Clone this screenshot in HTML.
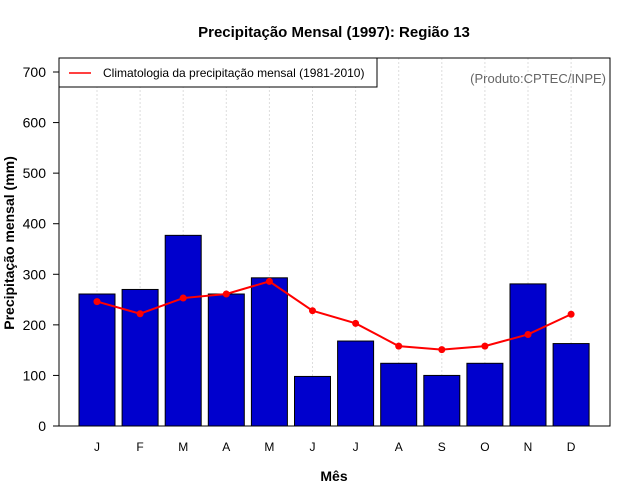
<!DOCTYPE html>
<html><head><meta charset="utf-8"><style>
body{margin:0;background:#fff;}
svg{display:block;font-family:"Liberation Sans",Arial,sans-serif;}
</style></head><body>
<svg id="chart" width="640" height="500">
<text x="334" y="37" text-anchor="middle" font-size="15" font-weight="bold">Precipitação Mensal (1997): Região 13</text>
<text x="334" y="481" text-anchor="middle" font-size="14" font-weight="bold">Mês</text>
<text transform="translate(14,243) rotate(-90)" text-anchor="middle" font-size="14" font-weight="bold">Precipitação mensal (mm)</text>
<g id="grid"></g><g id="bars"></g><g id="line"></g><g id="axes"></g>
<rect x="59" y="58" width="551" height="368" fill="none" stroke="#000"/>
<g>
<rect x="59" y="58" width="318" height="29" fill="#fff" stroke="#000"/>
<line x1="69" y1="73" x2="91" y2="73" stroke="#f00" stroke-width="1.5"/>
<text x="103" y="77" font-size="12">Climatologia da precipitação mensal (1981-2010)</text>
</g>
<text x="606" y="83" text-anchor="end" font-size="13" fill="#666">(Produto:CPTEC/INPE)</text>
</svg>
<script>
const months=["J","F","M","A","M","J","J","A","S","O","N","D"];
const observed=[261,270,377,261,293,98,168,124,100,124,281,163];
const climatology=[246,222,253,261,286,228,203,158,151,158,181,221];
const yTicks=[0,100,200,300,400,500,600,700];
const NS="http://www.w3.org/2000/svg";
function y(v){return 426-v*(354/700);}
function x(i){return 97+i*43.1;}
function mk(t,a,p){const e=document.createElementNS(NS,t);for(const k in a)e.setAttribute(k,a[k]);p.appendChild(e);return e;}
const grid=document.getElementById('grid'),bars=document.getElementById('bars'),line=document.getElementById('line'),axes=document.getElementById('axes');
months.forEach((m,i)=>{
  const g=mk('line',{x1:x(i),x2:x(i),y1:58,y2:426,stroke:'#ddd','stroke-dasharray':'2,2'},grid);
  
  
  const b=mk('rect',{x:x(i)-18,y:y(observed[i]),width:36,height:426-y(observed[i]),fill:'#0000cd',stroke:'#000'},bars);
  
  
  const t=mk('text',{x:x(i),y:451,'text-anchor':'middle','font-size':12},axes);
  t.textContent=m;
  
  
});
const pl=mk('polyline',{points:climatology.map((v,i)=>x(i)+','+y(v)).join(' '),fill:'none',stroke:'#f00','stroke-width':2},line);


climatology.forEach((v,i)=>{
  const c=mk('circle',{cx:x(i),cy:y(v),r:3.5,fill:'#f00'},line);
  
  
});
yTicks.forEach(v=>{
  mk('line',{x1:53,x2:59,y1:y(v),y2:y(v),stroke:'#000'},axes);
  const t=mk('text',{x:46,y:y(v)+5,'text-anchor':'end','font-size':14},axes);
  t.textContent=v;
  
  
});
</script>
</body></html>
